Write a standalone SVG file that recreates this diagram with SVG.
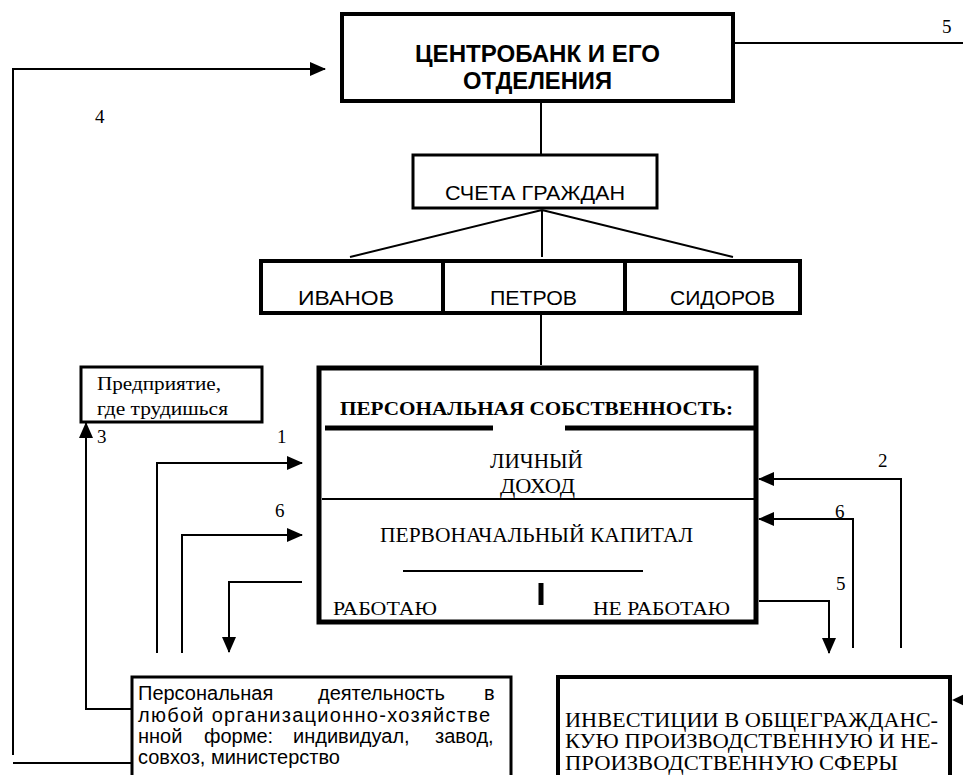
<svg xmlns="http://www.w3.org/2000/svg" width="963" height="775" viewBox="0 0 963 775">
<style>
.box{fill:#fff;stroke:#000}
.ln{fill:none;stroke:#000;stroke-width:2}
.ar{fill:none;stroke:#000;stroke-width:2;marker-end:url(#ah)}
.sans{font-family:"Liberation Sans",Arial,sans-serif;fill:#000}
.serif{font-family:"Liberation Serif","Times New Roman",serif;fill:#000}
.num{font-family:"Liberation Serif","Times New Roman",serif;font-size:19px;fill:#000}
</style>
<defs>
<marker id="ah" markerUnits="userSpaceOnUse" markerWidth="16" markerHeight="14" viewBox="0 0 16 14" refX="15" refY="7" orient="auto">
<path d="M0,0 L16,7 L0,14 z" fill="#000"/>
</marker>
</defs>
<rect width="963" height="775" fill="#fff"/>
<g id="connectors">
<path class="ln" d="M734,43 H963"/>
<path class="ar" d="M13,755 V69 H325"/>
<path class="ln" d="M13,763 H132"/>
<path class="ln" d="M541,101 V154"/>
<path class="ln" d="M542,210 L350,257 M542,210 V257 M542,210 L733,257"/>
<path class="ln" d="M541,300 V365"/>
<path class="ar" d="M132,709 H86 V423"/>
<path class="ar" d="M157,653 V463 H302"/>
<path class="ar" d="M182,653 V535 H302"/>
<path class="ar" d="M302,582 H229 V652"/>
<path class="ar" d="M901,648 V479 H759"/>
<path class="ar" d="M853,648 V519 H759"/>
<path class="ar" d="M759,601 H829 V653"/>
<path d="M952,700 L967,693 L967,707 z" fill="#000"/>
<text class="num" x="942" y="33">5</text>
<text class="num" x="95" y="123">4</text>
<text class="num" x="97" y="443">3</text>
<text class="num" x="277" y="443">1</text>
<text class="num" x="275" y="517">6</text>
<text class="num" x="878" y="467">2</text>
<text class="num" x="835" y="518">6</text>
<text class="num" x="836" y="590">5</text>
</g>
<g id="centrobank">
<rect class="box" x="342" y="14" width="391" height="87" stroke-width="4"/>
<text class="sans" font-weight="bold" font-size="23" x="415" y="62" textLength="245" lengthAdjust="spacingAndGlyphs">ЦЕНТРОБАНК И ЕГО</text>
<text class="sans" font-weight="bold" font-size="23" x="463" y="89" textLength="149" lengthAdjust="spacingAndGlyphs">ОТДЕЛЕНИЯ</text>
</g>
<g id="accounts">
<rect class="box" x="413" y="155" width="244" height="53" stroke-width="3"/>
<text class="sans" font-size="20" x="445" y="200" textLength="180" lengthAdjust="spacingAndGlyphs">СЧЕТА ГРАЖДАН</text>
</g>
<g id="names">
<rect class="box" x="261" y="261" width="539" height="52" stroke-width="4"/>
<path d="M443,261 V313 M625,261 V313" stroke="#000" stroke-width="4"/>
<text class="sans" font-size="21" x="298" y="305" textLength="96" lengthAdjust="spacingAndGlyphs">ИВАНОВ</text>
<text class="sans" font-size="21" x="490" y="305" textLength="87" lengthAdjust="spacingAndGlyphs">ПЕТРОВ</text>
<text class="sans" font-size="21" x="670" y="305" textLength="105" lengthAdjust="spacingAndGlyphs">СИДОРОВ</text>
</g>
<g id="enterprise">
<rect class="box" x="81" y="367" width="181" height="55" stroke-width="3"/>
<text class="serif" font-size="19" x="97" y="390" textLength="124" lengthAdjust="spacingAndGlyphs">Предприятие,</text>
<text class="serif" font-size="19" x="97" y="415" textLength="131" lengthAdjust="spacingAndGlyphs">где трудишься</text>
</g>
<g id="personal-property">
<rect class="box" x="319" y="368" width="437" height="254" stroke-width="5"/>
<text class="serif" font-weight="bold" font-size="19" x="340" y="415" textLength="393" lengthAdjust="spacingAndGlyphs">ПЕРСОНАЛЬНАЯ СОБСТВЕННОСТЬ:</text>
<path d="M325,428 H493 M565,428 H755" stroke="#000" stroke-width="5"/>
<text class="serif" font-size="20" x="490" y="468" textLength="93" lengthAdjust="spacingAndGlyphs">ЛИЧНЫЙ</text>
<text class="serif" font-size="20" x="500" y="493" textLength="75" lengthAdjust="spacingAndGlyphs">ДОХОД</text>
<path d="M322,499 H755" stroke="#000" stroke-width="2"/>
<text class="serif" font-size="20" x="380" y="542" textLength="313" lengthAdjust="spacingAndGlyphs">ПЕРВОНАЧАЛЬНЫЙ КАПИТАЛ</text>
<path d="M403,571 H643" stroke="#000" stroke-width="2"/>
<path d="M541,583 V605" stroke="#000" stroke-width="5"/>
<text class="serif" font-size="19" x="333" y="615" textLength="104" lengthAdjust="spacingAndGlyphs">РАБОТАЮ</text>
<text class="serif" font-size="19" x="593" y="615" textLength="137" lengthAdjust="spacingAndGlyphs">НЕ РАБОТАЮ</text>
</g>
<g id="activity">
<rect class="box" x="132" y="677" width="379" height="110" stroke-width="3"/>
<text class="sans" font-size="20" y="700"><tspan x="138">Персональная</tspan><tspan x="318">деятельность</tspan><tspan x="484">в</tspan></text>
<text class="sans" font-size="20" x="138" y="722" textLength="352" lengthAdjust="spacing">любой организационно-хозяйстве</text>
<text class="sans" font-size="20" y="743"><tspan x="138">нной</tspan><tspan x="204">форме:</tspan><tspan x="293">индивидуал,</tspan><tspan x="435">завод,</tspan></text>
<text class="sans" font-size="20" x="138" y="764">совхоз, министерство</text>
</g>
<g id="investments">
<rect class="box" x="558" y="677" width="392" height="110" stroke-width="4"/>
<text class="serif" font-size="20" x="565" y="727" textLength="373" lengthAdjust="spacingAndGlyphs">ИНВЕСТИЦИИ В ОБЩЕГРАЖДАНС-</text>
<text class="serif" font-size="20" x="565" y="748" textLength="373" lengthAdjust="spacingAndGlyphs">КУЮ ПРОИЗВОДСТВЕННУЮ И НЕ-</text>
<text class="serif" font-size="20" x="565" y="770" textLength="333" lengthAdjust="spacingAndGlyphs">ПРОИЗВОДСТВЕННУЮ СФЕРЫ</text>
</g>
</svg>
